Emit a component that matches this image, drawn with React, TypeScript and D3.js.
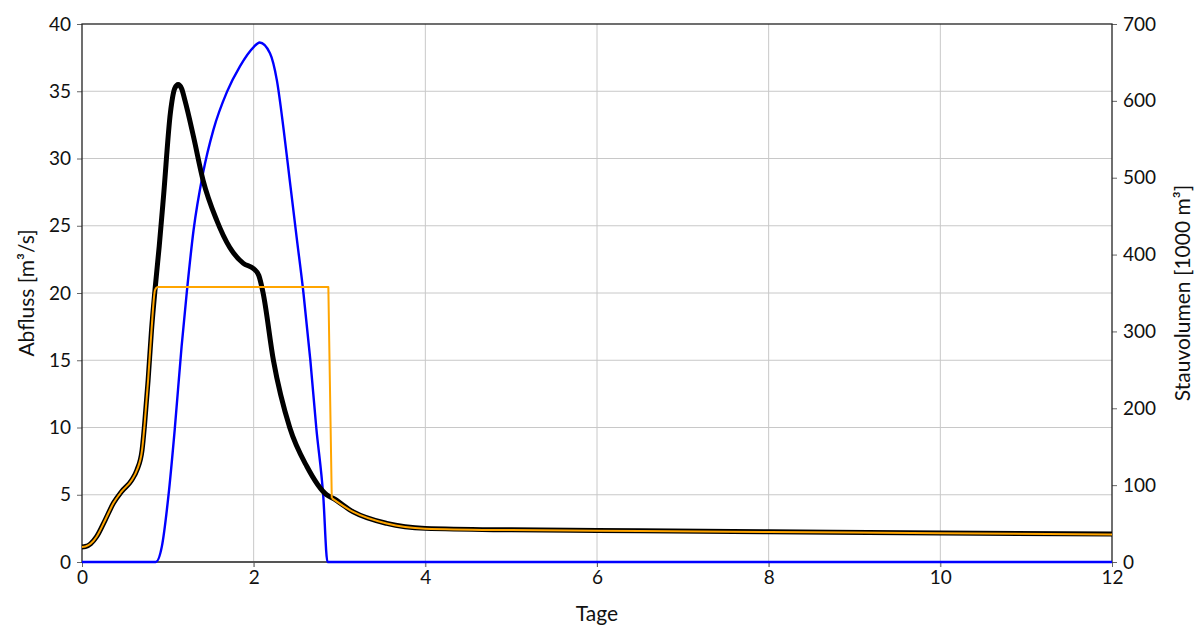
import React, { useEffect, useRef } from "react";
import * as d3 from "d3";

// Zufluss (black), Abfluss (orange), Stauvolumen (blue)
const inflowT = [0, 0.04, 0.1, 0.17, 0.27, 0.365, 0.46, 0.58, 0.64, 0.7, 0.73, 0.77, 0.81, 0.85, 0.9, 0.95, 1.03, 1.08, 1.12, 1.16, 1.2, 1.3, 1.41, 1.57, 1.72, 1.88, 2.0, 2.06, 2.11, 2.23, 2.42, 2.62, 2.85, 2.93, 3.16, 3.55, 4, 5, 6, 8, 10, 12];
const inflowQ = [1.12, 1.15, 1.35, 1.88, 3.12, 4.36, 5.23, 6.1, 6.84, 8.33, 10.3, 13.5, 17.25, 20.2, 23.5, 27.2, 33.4, 35.2, 35.5, 35.2, 34.3, 31.6, 28.4, 25.4, 23.4, 22.2, 21.8, 21.3, 20, 15, 10, 7.1, 5, 4.72, 3.73, 2.87, 2.5, 2.39, 2.34, 2.25, 2.16, 2.08];

const outflowT = [0, 0.04, 0.1, 0.17, 0.27, 0.365, 0.46, 0.58, 0.64, 0.7, 0.73, 0.77, 0.81, 0.85, 0.875, 2.87, 2.91, 3.16, 3.55, 4, 5, 6, 8, 10, 12];
const outflowQ = [1.12, 1.15, 1.35, 1.88, 3.12, 4.36, 5.23, 6.1, 6.84, 8.33, 10.3, 13.5, 17.25, 20.2, 20.45, 20.45, 4.75, 3.72, 2.86, 2.48, 2.37, 2.32, 2.23, 2.14, 2.05];

const storageT = [0, 0.86, 0.93, 1.006, 1.08, 1.16, 1.22, 1.3, 1.41, 1.53, 1.69, 1.84, 2.0, 2.07, 2.19, 2.27, 2.35, 2.42, 2.5, 2.58, 2.66, 2.73, 2.81, 2.86, 12];
const storageV = [0, 0, 20, 85, 172, 280, 350, 432, 506, 562, 612, 645, 670, 676, 662, 627, 562, 497, 423, 350, 263, 174, 87, 0, 0];

const xTicks = [0, 2, 4, 6, 8, 10, 12];
const leftTicks = [0, 5, 10, 15, 20, 25, 30, 35, 40];
const rightTicks = [0, 100, 200, 300, 400, 500, 600, 700];

const W = 1195, H = 628;
const margin = { top: 24, right: 83, bottom: 66, left: 82 };
const font = "Lato, 'Noto Sans', sans-serif";

export default function App() {
  const ref = useRef<SVGSVGElement>(null);

  useEffect(() => {
    const svg = d3.select(ref.current);
    svg.selectAll("*").remove();
    const width = W - margin.left - margin.right;
    const height = H - margin.top - margin.bottom;

    const x = d3.scaleLinear().domain([0, 12]).range([0, width]);
    const yL = d3.scaleLinear().domain([0, 40]).range([height, 0]);
    const yR = d3.scaleLinear().domain([0, 700]).range([height, 0]);

    const g = svg.append("g")
      .attr("transform", "translate(" + margin.left + "," + margin.top + ")");

    // grid
    g.append("g").selectAll("line").data(xTicks.slice(1, -1)).join("line")
      .attr("x1", d => x(d)).attr("x2", d => x(d))
      .attr("y1", 0).attr("y2", height + 5)
      .attr("stroke", "#c8c8c8").attr("stroke-width", 1);
    g.append("g").selectAll("line").data(leftTicks.slice(1, -1)).join("line")
      .attr("x1", 0).attr("x2", width)
      .attr("y1", d => yL(d)).attr("y2", d => yL(d))
      .attr("stroke", "#c8c8c8").attr("stroke-width", 1);

    // axes
    const axB = g.append("g")
      .attr("transform", "translate(0," + height + ")")
      .call(d3.axisBottom(x).tickValues(xTicks).tickSize(5).tickPadding(4));
    const axL = g.append("g")
      .call(d3.axisLeft(yL).tickValues(leftTicks).tickSize(5).tickPadding(6));
    const axR = g.append("g")
      .attr("transform", "translate(" + width + ",0)")
      .call(d3.axisRight(yR).tickValues(rightTicks).tickSize(5).tickPadding(6));
    [axB, axL, axR].forEach(a => {
      a.select(".domain").remove();
      a.selectAll(".tick line").attr("stroke", "#666");
      a.selectAll("text").attr("font-family", font).attr("font-size", 19).attr("fill", "#111");
    });

    // frame
    g.append("rect")
      .attr("width", width).attr("height", height)
      .attr("fill", "none").attr("stroke", "#222").attr("stroke-width", 1.3);
    g.append("line")
      .attr("x1", 0).attr("x2", width).attr("y1", height).attr("y2", height)
      .attr("stroke", "#555").attr("stroke-width", 2);

    const inflow = inflowT.map((t, i) => [x(t), yL(inflowQ[i])] as [number, number]);
    const outflow = outflowT.map((t, i) => [x(t), yL(outflowQ[i])] as [number, number]);
    const storage = storageT.map((t, i) => [x(t), yR(storageV[i])] as [number, number]);
    const smooth = d3.line().curve(d3.curveMonotoneX);
    const straight = d3.line();

    // blue storage
    g.append("path")
      .attr("d", smooth(storage))
      .attr("fill", "none").attr("stroke", "#0000ff").attr("stroke-width", 2.4);

    // black inflow
    g.append("path")
      .attr("d", smooth(inflow))
      .attr("fill", "none").attr("stroke", "#000").attr("stroke-width", 5)
      .attr("stroke-linejoin", "round");

    // orange outflow (piecewise: rising, flat + drop, tail)
    const segA = outflow.slice(0, 15);
    const segB = outflow.slice(14, 17);
    const segC = outflow.slice(16);
    [segA, segC].forEach(s => {
      g.append("path").attr("d", smooth(s))
        .attr("fill", "none").attr("stroke", "#ffa500").attr("stroke-width", 2);
    });
    g.append("path").attr("d", straight(segB))
      .attr("fill", "none").attr("stroke", "#ffa500").attr("stroke-width", 2)
      .attr("stroke-linejoin", "round");

    // axis titles
    svg.append("text")
      .attr("x", margin.left + width / 2).attr("y", 621)
      .attr("text-anchor", "middle")
      .attr("font-family", font).attr("font-size", 21).attr("fill", "#111")
      .text("Tage");
    svg.append("text")
      .attr("transform", "translate(34," + (margin.top + height / 2) + ") rotate(-90)")
      .attr("text-anchor", "middle")
      .attr("font-family", font).attr("font-size", 21).attr("fill", "#111")
      .text("Abfluss [m³/s]");
    svg.append("text")
      .attr("transform", "translate(1190," + (margin.top + height / 2) + ") rotate(-90)")
      .attr("text-anchor", "middle")
      .attr("font-family", font).attr("font-size", 21).attr("fill", "#111")
      .text("Stauvolumen [1000 m³]");
  }, []);

  return (
    <svg ref={ref} width={W} height={H}
      style={{ position: "absolute", left: 0, top: 0, background: "#fff" }} />
  );
}
